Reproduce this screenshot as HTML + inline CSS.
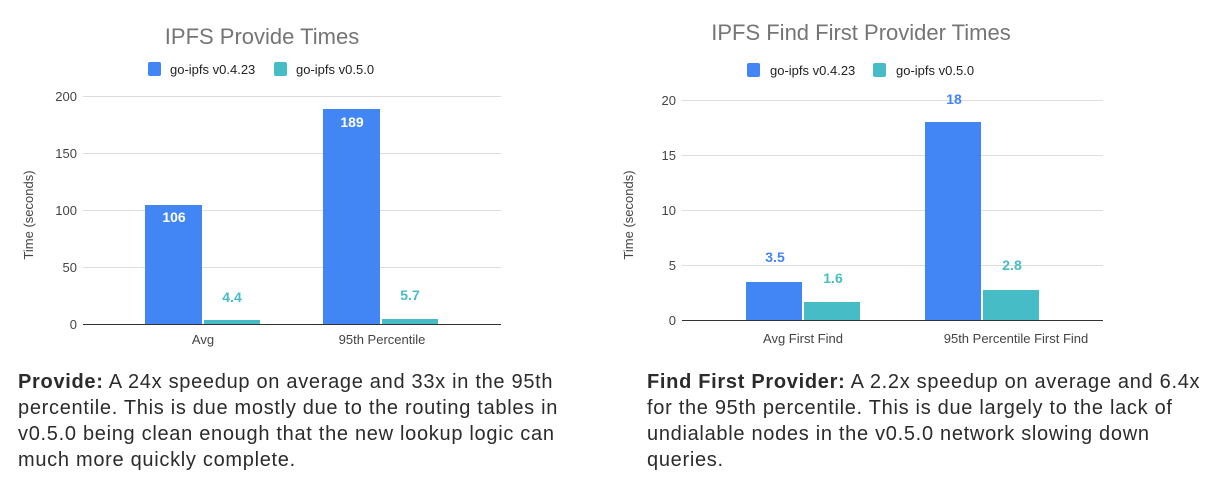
<!DOCTYPE html>
<html><head><style>
body{margin:0;width:1206px;height:487px;background:#fff;overflow:hidden;font-family:"Liberation Sans",sans-serif}
.p{position:absolute;font-size:20px;line-height:26px;color:#2b2b2b;white-space:nowrap;letter-spacing:0.7px}
</style></head><body>
<svg width="1206" height="360" style="position:absolute;left:0;top:0" font-family="Liberation Sans, sans-serif">
<g font-size="13" fill="#444" text-anchor="end">
<text x="262" y="44" font-size="22" fill="#757575" text-anchor="middle">IPFS Provide Times</text>
<rect x="148" y="62" width="13" height="14" rx="2" fill="#4285f4"/><text x="170" y="74" text-anchor="start" fill="#222">go-ipfs v0.4.23</text>
<rect x="274" y="62" width="13" height="14" rx="2" fill="#46bdc6"/><text x="296" y="74" text-anchor="start" fill="#222">go-ipfs v0.5.0</text>
<g stroke="#ddd"><line x1="83" y1="96.5" x2="501" y2="96.5"/><line x1="83" y1="153.5" x2="501" y2="153.5"/><line x1="83" y1="210.5" x2="501" y2="210.5"/><line x1="83" y1="267.5" x2="501" y2="267.5"/></g>
<text x="77" y="101">200</text><text x="77" y="158">150</text><text x="77" y="215">100</text><text x="77" y="272">50</text><text x="77" y="329">0</text>
<text transform="translate(33,215) rotate(-90)" text-anchor="middle">Time (seconds)</text>
<rect x="145" y="205" width="57" height="119" fill="#4285f4"/><rect x="204" y="320" width="56" height="4" fill="#46bdc6"/>
<rect x="323" y="109" width="57" height="215" fill="#4285f4"/><rect x="382" y="319" width="56" height="5" fill="#46bdc6"/>
<line x1="83" y1="324.5" x2="501" y2="324.5" stroke="#333"/>
<g font-weight="bold" text-anchor="middle" font-size="14"><text x="174" y="222" fill="#fff">106</text><text x="232" y="302" fill="#46bdc6">4.4</text><text x="352" y="127" fill="#fff">189</text><text x="410" y="300" fill="#46bdc6">5.7</text></g>
<g text-anchor="middle"><text x="203" y="344">Avg</text><text x="382" y="344">95th Percentile</text></g>

<text x="861" y="40" font-size="22" fill="#757575" text-anchor="middle">IPFS Find First Provider Times</text>
<rect x="747" y="63" width="13" height="14" rx="2" fill="#4285f4"/><text x="770" y="75" text-anchor="start" fill="#222">go-ipfs v0.4.23</text>
<rect x="873" y="63" width="13" height="14" rx="2" fill="#46bdc6"/><text x="896" y="75" text-anchor="start" fill="#222">go-ipfs v0.5.0</text>
<g stroke="#ddd"><line x1="682" y1="100.5" x2="1103" y2="100.5"/><line x1="682" y1="155.5" x2="1103" y2="155.5"/><line x1="682" y1="210.5" x2="1103" y2="210.5"/><line x1="682" y1="265.5" x2="1103" y2="265.5"/></g>
<text x="676" y="105">20</text><text x="676" y="160">15</text><text x="676" y="215">10</text><text x="676" y="270">5</text><text x="676" y="325">0</text>
<text transform="translate(633,215) rotate(-90)" text-anchor="middle">Time (seconds)</text>
<rect x="746" y="282" width="56" height="38" fill="#4285f4"/><rect x="804" y="302" width="56" height="18" fill="#46bdc6"/>
<rect x="925" y="122" width="56" height="198" fill="#4285f4"/><rect x="983" y="290" width="56" height="30" fill="#46bdc6"/>
<line x1="682" y1="320.5" x2="1103" y2="320.5" stroke="#333"/>
<g font-weight="bold" text-anchor="middle" font-size="14"><text x="775" y="262" fill="#4285f4">3.5</text><text x="833" y="283" fill="#46bdc6">1.6</text><text x="954" y="104" fill="#4285f4">18</text><text x="1012" y="270" fill="#46bdc6">2.8</text></g>
<g text-anchor="middle"><text x="803" y="343">Avg First Find</text><text x="1016" y="343">95th Percentile First Find</text></g>
</g></svg>
<div class="p" style="left:18px;top:369px"><b>Provide:</b> A 24x speedup on average and 33x in the 95th<br>percentile. This is due mostly due to the routing tables in<br>v0.5.0 being clean enough that the new lookup logic can<br>much more quickly complete.</div>
<div class="p" style="left:647px;top:369px"><b>Find First Provider:</b> A 2.2x speedup on average and 6.4x<br>for the 95th percentile. This is due largely to the lack of<br>undialable nodes in the v0.5.0 network slowing down<br>queries.</div>
</body></html>
